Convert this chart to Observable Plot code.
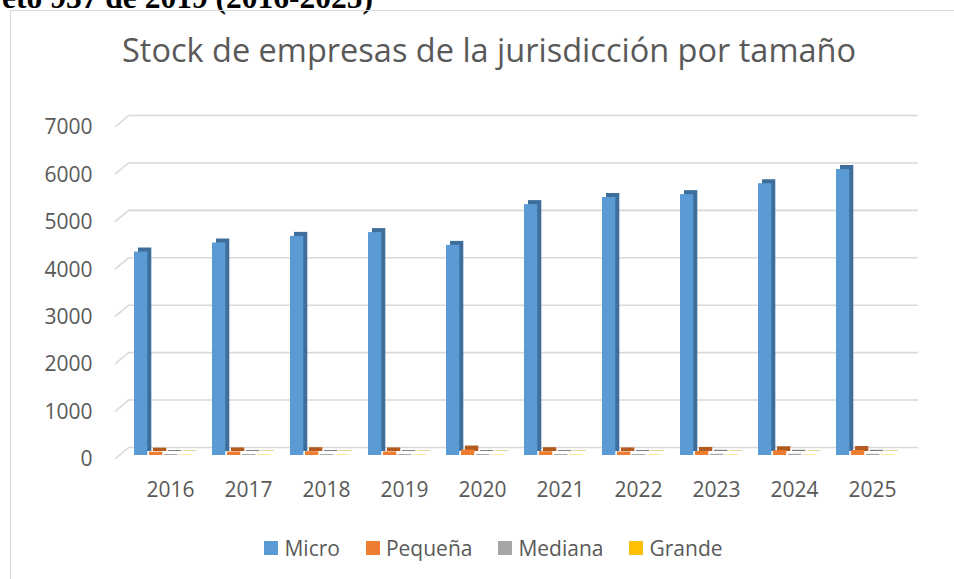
<!DOCTYPE html>
<html>
<head>
<meta charset="utf-8">
<script src="https://cdn.jsdelivr.net/npm/d3@7"></script>
<script src="https://cdn.jsdelivr.net/npm/@observablehq/plot@0.6"></script>
<style>
  html, body { margin: 0; padding: 0; background: #fff; width: 954px; height: 579px; overflow: hidden; position: relative; }
  #doc-head { position: absolute; right: 581px; top: -18px; font: bold 31.5px "Liberation Serif", "Times New Roman", serif; line-height: 31px; white-space: nowrap; color: #000; }
  #border { position: absolute; left: 10px; top: 10px; width: 1000px; height: 700px; border: 1px solid #d9d9d9; box-sizing: border-box; }
  #title { position: absolute; left: 0; width: 978px; text-align: center; top: 30px; font-family: "Open Sans", sans-serif; font-size: 32.5px; line-height: 40px; color: #595959; white-space: nowrap; }
  #chart { position: absolute; left: 0; top: 80px; }
  #legend { position: absolute; left: 0; width: 987px; top: 535px; display: flex; justify-content: center; gap: 26px; font-family: "Open Sans", sans-serif; font-size: 21px; color: #595959; line-height: 26px; }
  #legend .item { display: flex; align-items: center; gap: 6px; }
  #legend .sw { width: 14px; height: 14px; display: inline-block; }
</style>
</head>
<body>
<div id="doc-head">Decreto 937 de 2019 (2016-2025)</div>
<div id="border"></div>
<div id="title">Stock de empresas de la jurisdicción por tamaño</div>
<div id="chart"></div>
<div id="legend"></div>
<script>
// ---- data ----
const years = ["2016", "2017", "2018", "2019", "2020", "2021", "2022", "2023", "2024", "2025"];
const micro = [4290, 4480, 4620, 4700, 4430, 5290, 5440, 5500, 5730, 6030];
const pequena = [70, 75, 80, 75, 115, 80, 75, 85, 100, 105];
const mediana = [20, 20, 20, 20, 20, 20, 20, 25, 25, 25];
const grande = [8, 8, 8, 8, 8, 8, 8, 8, 8, 8];
const seriesNames = ["Micro", "Pequeña", "Mediana", "Grande"];
const yTicks = [0, 1000, 2000, 3000, 4000, 5000, 6000, 7000];

// ---- styles ----
const frontColors = ["#5B9BD5", "#ED7D31", "#A5A5A5", "#FFC000"];
const sideColors = ["#3E6E9C", "#B35A1F", "#7A7A7A", "#BF9000"];
const seriesValues = [micro, pequena, mediana, grande];

const W = 954, H = 440;
const mL = 127, mR = 40, mT = 43, mB = 65;
const bw = (W - mL - mR) / years.length;
const barW = 14, step = 15, off0 = 3;

const marks = [
  Plot.ruleY(yTicks, {y: d => d, dy: -8, stroke: "#d9d9d9", strokeWidth: 1.6, insetLeft: 1, insetRight: -4}),
  Plot.vector(yTicks, {
    y: d => d, frameAnchor: "left", dx: -12, dy: 3, length: 17, rotate: 50, anchor: "start",
    stroke: "#d9d9d9", strokeWidth: 1.6,
    shape: {draw(context, l) { context.moveTo(0, 0); context.lineTo(0, -l); }}
  })
];

seriesNames.forEach((name, i) => {
  const data = years.map((y, j) => ({year: y, value: seriesValues[i][j], series: name}));
  const off = off0 + step * i;
  const ins = {insetLeft: off, insetRight: bw - off - barW};
  marks.push(Plot.barY(data, {x: "year", y: "value", fill: sideColors[i], dx: 4, dy: -4, ...ins}));
  marks.push(Plot.barY(data, {x: "year", y: "value", fill: frontColors[i], ...ins}));
});

marks.push(Plot.axisY(yTicks, {tickSize: 0, tickPadding: 35, dy: 4, fontSize: 21, fill: "#595959", label: null, tickFormat: d3.format("d")}));
marks.push(Plot.axisX({tickSize: 0, tickPadding: 27, fontSize: 21, fill: "#595959", label: null}));

const chart = Plot.plot({
  width: W, height: H,
  marginLeft: mL, marginRight: mR, marginTop: mT, marginBottom: mB,
  style: {fontFamily: "'Open Sans', sans-serif", color: "#595959", background: "transparent", overflow: "visible"},
  x: {type: "band", domain: years, padding: 0, axis: null},
  y: {domain: [0, 7000], axis: null},
  marks
});
document.getElementById("chart").appendChild(chart);

const legend = document.getElementById("legend");
seriesNames.forEach((name, i) => {
  const item = document.createElement("div");
  item.className = "item";
  const sw = document.createElement("span");
  sw.className = "sw";
  sw.style.background = frontColors[i];
  const t = document.createElement("span");
  t.textContent = name;
  item.appendChild(sw); item.appendChild(t);
  legend.appendChild(item);
});
</script>
</body>
</html>
